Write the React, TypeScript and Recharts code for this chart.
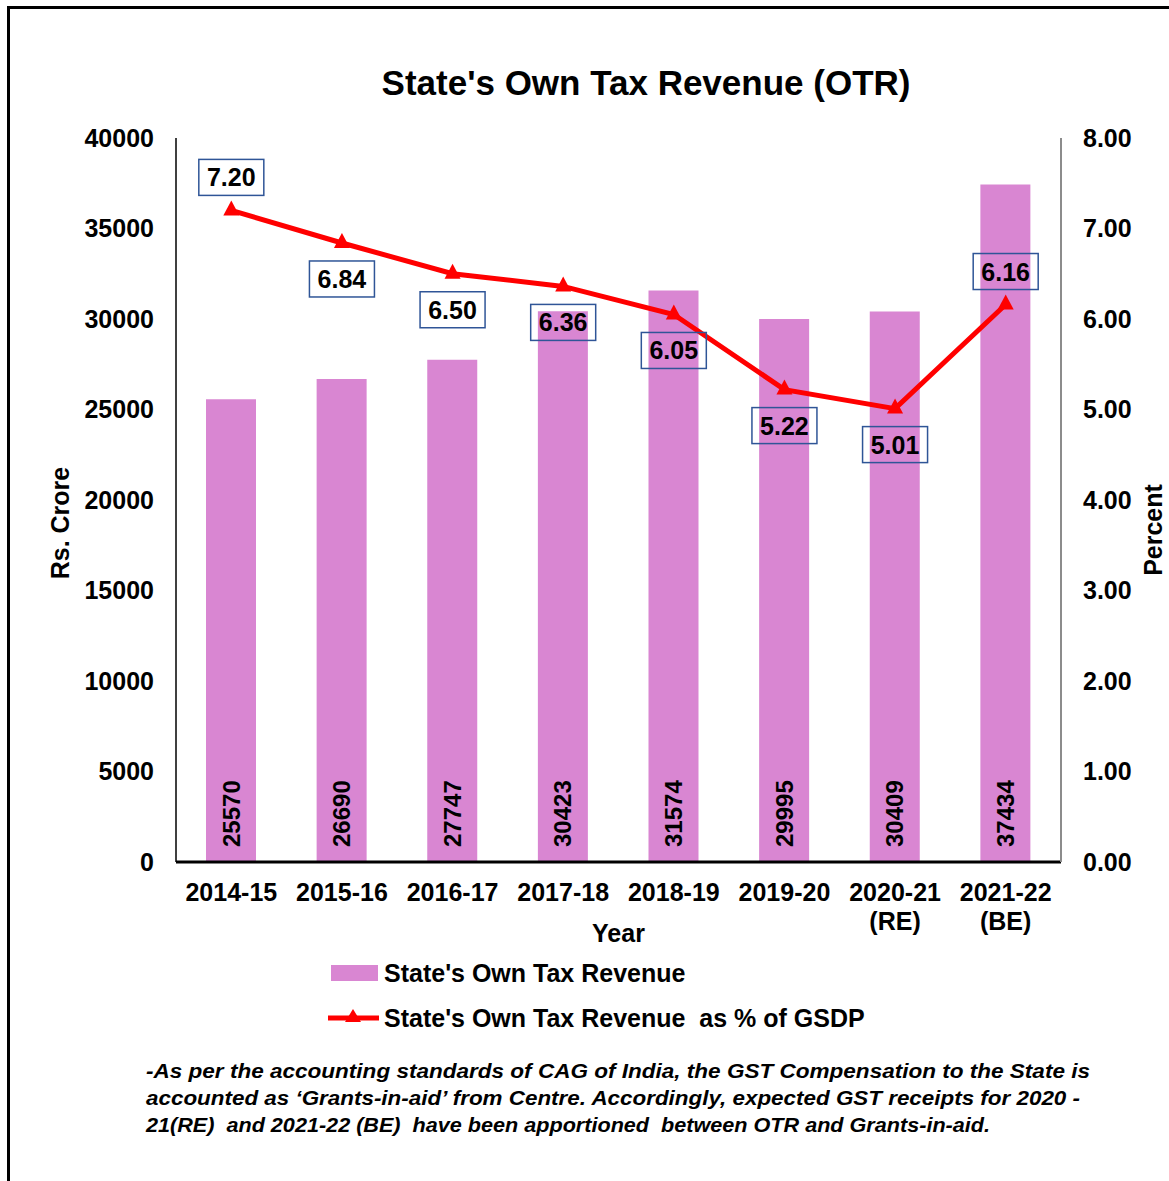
import React from "react";
import { ComposedChart, Bar, Line, XAxis, YAxis, Legend, LabelList, Label } from "recharts";

const years = ["2014-15", "2015-16", "2016-17", "2017-18", "2018-19", "2019-20", "2020-21 (RE)", "2021-22 (BE)"];
const otrValues = [25570, 26690, 27747, 30423, 31574, 29995, 30409, 37434];
const pctOfGsdp = [7.2, 6.84, 6.5, 6.36, 6.05, 5.22, 5.01, 6.16];
const leftTicks = [0, 5000, 10000, 15000, 20000, 25000, 30000, 35000, 40000];
const rightTicks = [0, 1, 2, 3, 4, 5, 6, 7, 8];

const titleText = "State's Own Tax Revenue (OTR)";
const barName = "State's Own Tax Revenue";
const lineName = "State's Own Tax Revenue  as % of GSDP";
const footnoteLines = [
  "-As per the accounting standards of CAG of India, the GST Compensation to the State is",
  "accounted as \u2018Grants-in-aid\u2019 from Centre. Accordingly, expected GST receipts for 2020 -",
  "21(RE)  and 2021-22 (BE)  have been apportioned  between OTR and Grants-in-aid.",
];

const data = years.map((year, i) => ({ year, otr: otrValues[i], pct: pctOfGsdp[i] }));

const FONT = "'Liberation Sans', Arial, Helvetica, sans-serif";
const BAR_COLOR = "#D986D2";
const LINE_COLOR = "#FF0000";
const BOX_COLOR = "#2F5597";
const FS = 25;

const TriangleDot = (props: any) => {
  const { cx, cy } = props;
  if (cx == null || cy == null) return null;
  return <path d={`M${cx},${cy - 10} L${cx + 8},${cy + 5} L${cx - 8},${cy + 5} Z`} fill={LINE_COLOR} />;
};

const PctLabel = (props: any) => {
  const { x, y, value, index } = props;
  const above = index === 0 || index === years.length - 1;
  const cy = above ? y - 33 : y + 36;
  const w = 65;
  const h = 36;
  return (
    <g>
      <rect x={x - w / 2} y={cy - h / 2} width={w} height={h} fill="none" stroke={BOX_COLOR} strokeWidth={1.5} />
      <text x={x} y={cy} textAnchor="middle" dominantBaseline="central" fontSize={FS} fontWeight="bold" fill="#000" fontFamily={FONT}>
        {Number(value).toFixed(2)}
      </text>
    </g>
  );
};

const BarValueLabel = (props: any) => {
  const { x, y, width, height, value } = props;
  const cx = x + width / 2;
  const by = y + height - 15;
  return (
    <text x={cx} y={by} transform={`rotate(-90, ${cx}, ${by})`} textAnchor="start" dominantBaseline="central" fontSize={24} fontWeight="bold" fill="#000" fontFamily={FONT}>
      {value}
    </text>
  );
};

const XTick = (props: any) => {
  const { x, y, payload } = props;
  const parts = String(payload.value).split(" ");
  return (
    <g>
      {parts.map((p, i) => (
        <text key={i} x={x} y={y + 24 + i * 29} textAnchor="middle" dominantBaseline="central" fontSize={FS} fontWeight="bold" fill="#000" fontFamily={FONT}>
          {p}
        </text>
      ))}
    </g>
  );
};

const LegendContent = () => (
  <div style={{ fontFamily: FONT, fontWeight: "bold", fontSize: FS, color: "#000", whiteSpace: "pre" }}>
    <div style={{ display: "flex", alignItems: "center", height: 36 }}>
      <svg width={56} height={36}>
        <rect x={3} y={10} width={47} height={16} fill={BAR_COLOR} />
      </svg>
      <span>{barName}</span>
    </div>
    <div style={{ display: "flex", alignItems: "center", height: 36, marginTop: 9 }}>
      <svg width={56} height={36}>
        <line x1={0} y1={18} x2={51} y2={18} stroke={LINE_COLOR} strokeWidth={5} />
        <path d="M25,9 L33,22 L17,22 Z" fill={LINE_COLOR} />
      </svg>
      <span>{lineName}</span>
    </div>
  </div>
);

const tickStyle = { fontSize: FS, fontWeight: "bold", fill: "#000", fontFamily: FONT };

export default function App() {
  return (
    <div style={{ position: "absolute", left: 0, top: 0, width: 1169, height: 1181, background: "#fff", overflow: "hidden" }}>
      <div style={{ position: "absolute", left: 7, top: 6, width: 1300, height: 1300, borderLeft: "3px solid #000", borderTop: "3px solid #000" }} />
      <div style={{ position: "absolute", left: 0, top: 0 }}>
        <ComposedChart width={1169} height={1181} data={data} margin={{ top: 138, left: 36, right: 8, bottom: 239 }}>
          <XAxis dataKey="year" xAxisId={0} interval={0} tickLine={false} axisLine={{ stroke: "#000", strokeWidth: 3 }} height={80} tickMargin={0} tick={<XTick />}>
            <Label
              content={(p: any) => {
                const vb = p.viewBox;
                return (
                  <text x={vb.x + vb.width / 2} y={vb.y + 71} textAnchor="middle" dominantBaseline="central" fontSize={FS} fontWeight="bold" fill="#000" fontFamily={FONT}>
                    Year
                  </text>
                );
              }}
            />
          </XAxis>
          <YAxis yAxisId="l" orientation="left" width={140} domain={[0, 40000]} ticks={leftTicks} interval={0} tickLine={false} tickMargin={16} axisLine={{ stroke: "#000", strokeWidth: 1.5 }} tick={tickStyle}>
            <Label
              content={(p: any) => {
                const vb = p.viewBox;
                const x = vb.x + 24;
                const y = vb.y + vb.height / 2 + 23;
                return (
                  <text x={x} y={y} transform={`rotate(-90, ${x}, ${y})`} textAnchor="middle" dominantBaseline="central" fontSize={FS} fontWeight="bold" fill="#000" fontFamily={FONT}>
                    Rs. Crore
                  </text>
                );
              }}
            />
          </YAxis>
          <YAxis yAxisId="r" orientation="right" width={100} domain={[0, 8]} ticks={rightTicks} interval={0} tickLine={false} tickMargin={16} axisLine={{ stroke: "#8C8C8C", strokeWidth: 2 }} tick={tickStyle} tickFormatter={(v: number) => v.toFixed(2)}>
            <Label
              content={(p: any) => {
                const vb = p.viewBox;
                const x = vb.x + 92;
                const y = vb.y + vb.height / 2 + 30;
                return (
                  <text x={x} y={y} transform={`rotate(-90, ${x}, ${y})`} textAnchor="middle" dominantBaseline="central" fontSize={FS} fontWeight="bold" fill="#000" fontFamily={FONT}>
                    Percent
                  </text>
                );
              }}
            />
          </YAxis>
          <Legend layout="horizontal" verticalAlign="middle" align="center" wrapperStyle={{ left: 328, top: 955, width: 640 }} content={<LegendContent />} />
          <Bar yAxisId="l" dataKey="otr" name={barName} fill={BAR_COLOR} barSize={50} isAnimationActive={false}>
            <LabelList dataKey="otr" content={<BarValueLabel />} />
          </Bar>
          <Line yAxisId="r" dataKey="pct" name={lineName} stroke={LINE_COLOR} strokeWidth={5} dot={<TriangleDot />} activeDot={false} isAnimationActive={false} label={<PctLabel />} />
        </ComposedChart>
      </div>
      <svg style={{ position: "absolute", left: 0, top: 0, pointerEvents: "none" }} width={1169} height={1181}>
        <text x={646} y={82} textAnchor="middle" dominantBaseline="central" fontSize={35} fontWeight="bold" fill="#000" fontFamily={FONT}>
          {titleText}
        </text>
        {footnoteLines.map((t, i) => (
          <text
            key={i}
            x={146}
            y={1078 + i * 27}
            fontSize={21}
            fontWeight="bold"
            fontStyle="italic"
            fill="#000"
            fontFamily={FONT}
            textLength={[944, 934, 844][i]}
            lengthAdjust="spacingAndGlyphs"
            style={{ whiteSpace: "pre" }}
          >
            {t}
          </text>
        ))}
      </svg>
    </div>
  );
}
